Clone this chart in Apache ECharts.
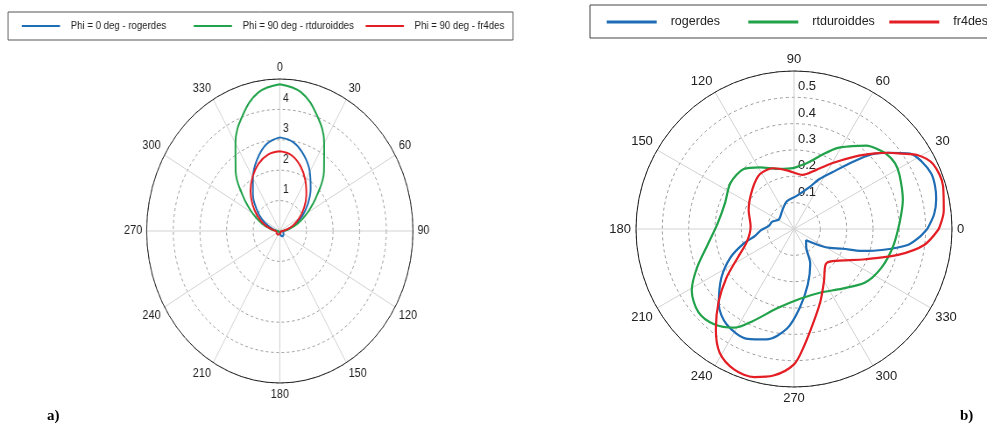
<!DOCTYPE html>
<html><head><meta charset="utf-8">
<script src="https://cdn.jsdelivr.net/npm/echarts@6/dist/echarts.min.js"></script>
<style>
html,body{margin:0;padding:0;background:#fff;width:987px;height:431px;overflow:hidden;}
#right{position:absolute;left:0;top:0;width:987px;height:431px;}
#left{position:absolute;left:0;top:0;width:600px;height:431px;transform:scaleX(0.876);transform-origin:0 0;}
</style></head><body>
<div id="right"></div><div id="left"></div>
<script>
// ---------- data: chart a) (angle clockwise from top, step 10 deg) ----------
const leftAngles = [0,10,20,30,40,50,60,70,80,90,100,110,120,130,140,150,160,170,180,190,200,210,220,230,240,250,260,270,280,290,300,310,320,330,340,350];
const leftNames = ['Phi = 0 deg - rogerdes','Phi = 90 deg - rtduroiddes','Phi = 90 deg - fr4des'];
const leftBlue  = [3.08,2.96,2.65,2.25,1.8,1.37,0.96,0.6,0.3,0.15,0.13,0.14,0.16,0.18,0.2,0.2,0.17,0.13,0.09,0.06,0.05,0.04,0.04,0.04,0.04,0.05,0.07,0.1,0.2,0.44,0.78,1.15,1.57,2.02,2.5,2.9];
const leftGreen = [4.83,4.63,4.06,3.33,2.58,1.82,1.2,0.72,0.33,0.1,0.06,0.05,0.04,0.04,0.04,0.04,0.04,0.04,0.04,0.04,0.04,0.04,0.04,0.04,0.04,0.05,0.06,0.1,0.33,0.72,1.2,1.82,2.58,3.33,4.06,4.63];
const leftRed   = [2.62,2.53,2.27,1.92,1.55,1.19,0.84,0.53,0.25,0.1,0.05,0.04,0.04,0.04,0.05,0.06,0.07,0.08,0.09,0.1,0.12,0.13,0.14,0.14,0.14,0.13,0.13,0.15,0.3,0.62,0.96,1.33,1.71,2.05,2.35,2.55];
const leftTicksR = [1,2,3,4];

// ---------- data: chart b) (angle counter-clockwise from right) ----------
const rightNames = ['rogerdes','rtduroiddes','fr4des'];
const rightBlueAngle = [0,6,12,17,22,28,33,39,44,49,56,63,70,86,105,120,135,148,162,172,182,190,196,204,214,225,235,247,256,266,274,284,295,304,317,330,338,342,347,352,356];
const rightBlueR     = [0.506,0.535,0.552,0.56,0.562,0.548,0.526,0.46,0.408,0.336,0.26,0.213,0.168,0.125,0.108,0.086,0.072,0.068,0.088,0.095,0.125,0.15,0.198,0.263,0.333,0.404,0.444,0.453,0.432,0.379,0.302,0.217,0.146,0.083,0.063,0.139,0.2,0.27,0.35,0.436,0.475];
const rightGreenAngle = [3,15,27,33,39,45,49,55,62,69,75,80,91,104,119,130,144,159,176,190,202,211,221,230,239,246,258,275,292,309,323,336,350];
const rightGreenR     = [0.401,0.428,0.45,0.458,0.452,0.435,0.42,0.384,0.348,0.303,0.27,0.252,0.231,0.235,0.268,0.297,0.298,0.28,0.291,0.332,0.398,0.453,0.481,0.472,0.437,0.382,0.308,0.266,0.261,0.291,0.338,0.363,0.382];
const rightRedAngle = [0,7,16,25,31,35,39,43,50,60,70,81,96,109,122,136,157,177,195,207,216,224,232,239,247,255,262,270,275,282,290,300,312,320,337,346,353];
const rightRedR     = [0.55,0.573,0.589,0.583,0.546,0.499,0.46,0.421,0.359,0.288,0.237,0.208,0.223,0.244,0.245,0.219,0.187,0.165,0.185,0.24,0.318,0.398,0.482,0.548,0.58,0.582,0.562,0.514,0.445,0.36,0.293,0.228,0.18,0.19,0.294,0.407,0.498];
const rightTicksR = [0.1,0.2,0.3,0.4,0.5];

const COLORS = ['#1f6db5','#22a34b','#e31e24'];
const FONT = 'Liberation Sans, Arial, sans-serif';

function loop(angles, radii, mapA, wrap){
  const d = angles.map((a,i)=>[radii[i], mapA(a)]);
  d.push([radii[0], mapA(angles[0]) + wrap]);
  return d;
}
function idA(a){ return a; }
function rightA(a){ return ((a-90)%360+360)%360+90; }

function legends(names, lefts, top, cfg){
  return names.map((n,i)=>({
    data:[n], left:lefts[i], top:top, padding:0, itemWidth:cfg.itemWidth, itemHeight:cfg.itemHeight, icon:'rect',
    textStyle:{fontSize:cfg.fontSize, lineHeight:cfg.lineHeight, color:'#222', fontFamily:FONT, padding:[0,0,0,cfg.textPad]}
  }));
}

// ---------- chart a) (drawn in a horizontally compressed box, as in the source figure) ----------
const L = echarts.init(document.getElementById('left'));
const leftSeries = [leftBlue,leftGreen,leftRed].map((vals,i)=>({
  name:leftNames[i], type:'line', coordinateSystem:'polar',
  data:loop(leftAngles, vals, idA, 360), smooth:0.4, symbol:'none',
  lineStyle:{color:COLORS[i], width:2}, itemStyle:{color:COLORS[i]}
}));
L.setOption({
  animation:false,
  textStyle:{fontFamily:FONT},
  legend:legends(leftNames, [24.8, 221.1, 417.4], 19, {itemWidth:43.7, itemHeight:2, fontSize:11, lineHeight:14, textPad:7.2}),
  graphic:[{type:'rect', shape:{x:9.1, y:12, width:576.5, height:28}, style:{fill:'none', stroke:'#555', lineWidth:1}, silent:true}],
  polar:{center:[319.4,231], radius:152},
  angleAxis:{
    type:'value', min:0, max:360, interval:30, startAngle:90, clockwise:true,
    axisLine:{lineStyle:{color:'#222', width:1}}, axisTick:{show:false},
    axisLabel:{margin:5, fontSize:12.5, color:'#222', fontFamily:FONT, formatter:v=> v>=360?'':String(v)},
    splitLine:{lineStyle:{color:'#d2d2d2', width:1}}
  },
  radiusAxis:{
    type:'value', min:0, max:5, interval:1,
    axisLine:{show:false}, axisTick:{show:false},
    axisLabel:{margin:-3.5, align:'left', verticalAlign:'bottom', padding:[0,0,5,0], fontSize:12, color:'#222', fontFamily:FONT,
      formatter:v=> leftTicksR.indexOf(v)>=0 ? String(v) : ''},
    splitLine:{lineStyle:{color:'#9a9a9a', width:1, type:[3,3]}}
  },
  series:leftSeries
});

// ---------- chart b) ----------
const R = echarts.init(document.getElementById('right'));
const rightData = [[rightBlueAngle,rightBlueR],[rightGreenAngle,rightGreenR],[rightRedAngle,rightRedR]];
const rightSeries = rightData.map((p,i)=>({
  name:rightNames[i], type:'line', coordinateSystem:'polar',
  data:loop(p[0], p[1], rightA, 0), smooth:0.3, symbol:'none',
  lineStyle:{color:COLORS[i], width:2.2}, itemStyle:{color:COLORS[i]}
}));
R.setOption({
  animation:false,
  textStyle:{fontFamily:FONT},
  legend:legends(rightNames, [606.7, 748.3, 889.3], 14, {itemWidth:50, itemHeight:3, fontSize:12.5, lineHeight:16, textPad:9}),
  polar:{center:[794,229], radius:158},
  angleAxis:{
    type:'value', min:90, max:450, interval:30, startAngle:90, clockwise:false,
    axisLine:{lineStyle:{color:'#222', width:1}}, axisTick:{show:false},
    axisLabel:{margin:5, fontSize:13, color:'#222', fontFamily:FONT, formatter:v=> v>=450?'':String(v%360)},
    splitLine:{lineStyle:{color:'#d2d2d2', width:1}}
  },
  radiusAxis:{
    type:'value', min:0, max:0.6, interval:0.1,
    axisLine:{show:false}, axisTick:{show:false},
    axisLabel:{margin:-4, align:'left', verticalAlign:'bottom', padding:[0,0,4,0], fontSize:13, color:'#222', fontFamily:FONT,
      formatter:v=> rightTicksR.some(t=>Math.abs(t-v)<1e-6) ? v.toFixed(1) : ''},
    splitLine:{lineStyle:{color:'#9a9a9a', width:1, type:[3,3]}}
  },
  graphic:[
    {type:'rect', shape:{x:590, y:5, width:420, height:33}, style:{fill:'none', stroke:'#444', lineWidth:1}, silent:true},
    {type:'text', left:47, top:409, style:{text:'a)', font:'bold 15px "Liberation Serif", serif', fill:'#000'}},
    {type:'text', left:960, top:409, style:{text:'b)', font:'bold 15px "Liberation Serif", serif', fill:'#000'}}
  ],
  series:rightSeries
});
</script>
</body></html>
